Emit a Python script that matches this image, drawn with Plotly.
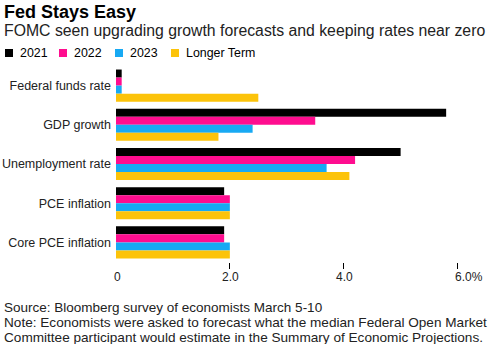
import plotly.graph_objects as go

# Projections (percent) by indicator
categories = ["Federal funds rate", "GDP growth", "Unemployment rate",
              "PCE inflation", "Core PCE inflation"]
series_names = ["2021", "2022", "2023", "Longer Term"]
values_2021 = [0.1, 5.8, 5.0, 1.9, 1.9]
values_2022 = [0.1, 3.5, 4.2, 2.0, 1.9]
values_2023 = [0.1, 2.4, 3.7, 2.0, 2.0]
values_longer = [2.5, 1.8, 4.1, 2.0, 2.0]
tick_values = [0, 2, 4, 6]
tick_labels = ["0", "2.0", "4.0", "6.0%"]

colors = ["#000000", "#ff0d8f", "#17a9f3", "#fcc30a"]
FONT = "Liberation Sans, Arial, sans-serif"

W, H = 492, 344
L, R, T, B = 116, 6, 66, 82
plot_w = W - L - R
plot_h = H - T - B


def px_x(px):
    return (px - L) / plot_w


def px_y(py):
    return (H - B - py) / plot_h


fig = go.Figure()
for name, vals, col in zip(series_names,
                           [values_2021, values_2022, values_2023, values_longer],
                           colors):
    fig.add_trace(go.Bar(y=categories, x=vals, name=name, orientation="h",
                         marker=dict(color=col, line=dict(width=0)),
                         showlegend=False, hoverinfo="x+name"))

annotations = [
    dict(text="<b>Fed Stays Easy</b>", x=px_x(2), y=px_y(12), xanchor="left",
         yanchor="middle", font=dict(size=18, color="#000")),
    dict(text="FOMC seen upgrading growth forecasts and keeping rates near zero",
         x=px_x(2), y=px_y(30), xanchor="left", yanchor="middle",
         font=dict(size=15.8, color="#222")),
    dict(text="Source: Bloomberg survey of economists March 5-10",
         x=px_x(2), y=px_y(307), xanchor="left", yanchor="middle",
         font=dict(size=13.5, color="#222")),
    dict(text="Note: Economists were asked to forecast what the median Federal Open Market",
         x=px_x(2), y=px_y(322), xanchor="left", yanchor="middle",
         font=dict(size=13.6, color="#222")),
    dict(text="Committee participant would estimate in the Summary of Economic Projections.",
         x=px_x(2), y=px_y(337), xanchor="left", yanchor="middle",
         font=dict(size=13.6, color="#222")),
]

# Value-axis labels; the last one hangs its "%" to the right of the tick
for v, t in zip(tick_values, tick_labels):
    last = t.endswith("%")
    annotations.append(dict(text=t, x=v, xref="x", y=px_y(277), yref="paper",
                            xanchor="left" if last else "center",
                            xshift=-5 if last else 1, yanchor="middle",
                            font=dict(size=12, color="#222")))

# Custom legend row: small squares followed by labels
legend_x = [5, 59, 115, 171]
shapes = []
for lx, name, col in zip(legend_x, series_names, colors):
    shapes.append(dict(type="rect", xref="paper", yref="paper",
                       x0=px_x(lx), x1=px_x(lx + 8), y0=px_y(57), y1=px_y(49),
                       fillcolor=col, line=dict(width=0)))
    annotations.append(dict(text=name, x=px_x(lx + 13), y=px_y(53),
                            xanchor="left", yanchor="middle",
                            font=dict(size=12.4, color="#000")))

for a in annotations:
    a.setdefault("xref", "paper")
    a.setdefault("yref", "paper")
    a["showarrow"] = False

fig.update_layout(
    width=W, height=H,
    margin=dict(l=L, r=R, t=T, b=B, pad=0, autoexpand=False),
    paper_bgcolor="white", plot_bgcolor="white",
    font=dict(family=FONT, color="#222"),
    barmode="group", bargap=0.18, bargroupgap=0,
    annotations=annotations, shapes=shapes,
    xaxis=dict(range=[0, 6.5], tickvals=tick_values[1:],
               ticks="outside", ticklen=6, tickcolor="#000", tickwidth=1,
               showticklabels=False, automargin=False,
               showgrid=False, zeroline=False, showline=False),
    yaxis=dict(autorange="reversed", showgrid=False, zeroline=False,
               showline=False, ticks="", ticklabelstandoff=4, automargin=False,
               tickfont=dict(size=12.5, color="#222")),
)

fig.write_html("out.html")
